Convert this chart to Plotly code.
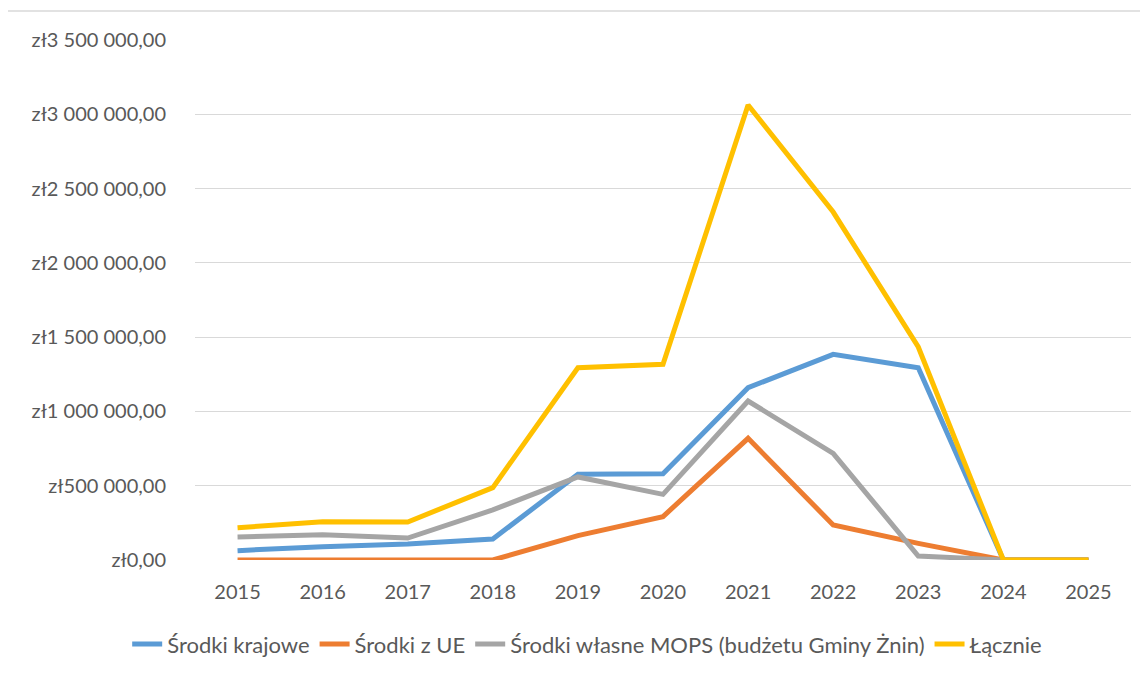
import plotly.graph_objects as go

years = ["2015", "2016", "2017", "2018", "2019", "2020", "2021", "2022", "2023", "2024", "2025"]
krajowe = [63000, 90000, 108000, 141000, 577000, 580000, 1160000, 1384000, 1294000, 0, 0]
ue = [0, 0, 0, 0, 164000, 292000, 819000, 236000, 112000, 0, 0]
wlasne = [155000, 170000, 148000, 337000, 559000, 442000, 1070000, 718000, 27000, 0, 0]
lacznie = [217000, 258000, 256000, 487000, 1294000, 1317000, 3063000, 2342000, 1434000, 0, 0]

tick_vals = [0, 500000, 1000000, 1500000, 2000000, 2500000, 3000000, 3500000]
tick_text = ["zł0,00", "zł500 000,00", "zł1 000 000,00", "zł1 500 000,00",
             "zł2 000 000,00", "zł2 500 000,00", "zł3 000 000,00", "zł3 500 000,00"]

series = [
    ("Środki krajowe", krajowe, "#5B9BD5"),
    ("Środki z UE", ue, "#ED7D31"),
    ("Środki własne MOPS (budżetu Gminy Żnin)", wlasne, "#A5A5A5"),
    ("Łącznie", lacznie, "#FFC000"),
]

fig = go.Figure()
for name, vals, color in series:
    fig.add_trace(go.Scatter(x=years, y=vals, name=name, mode="lines",
                             line=dict(color=color, width=5)))

tick_font = dict(family="Lato, 'Open Sans', sans-serif", size=20, color="#595959")
leg_font = dict(family="Lato, 'Open Sans', sans-serif", size=22, color="#595959")

# page body has an 8px margin, so the figure is sized to fit inside it
fig.update_layout(
    width=1140, height=661, autosize=False,
    margin=dict(l=187, r=17, t=32, b=109, autoexpand=False),
    paper_bgcolor="white", plot_bgcolor="white",
    font=tick_font,
    showlegend=True,
    legend=dict(orientation="h", x=0.419, xanchor="center",
                y=-0.162, yanchor="middle", font=leg_font),
)
fig.update_xaxes(type="category", range=[-0.5, 10.5], showgrid=False,
                 showline=False, zeroline=False, ticks="", tickangle=0,
                 ticklabelstandoff=18)
fig.update_yaxes(range=[0, 3500000], tickvals=tick_vals, ticktext=tick_text,
                 showgrid=True, gridcolor="#D9D9D9", gridwidth=1.3,
                 zeroline=False, showline=False, ticks="", ticklabelstandoff=28)

# outer chart border
fig.add_shape(type="rect", xref="paper", yref="paper",
              x0=-0.2009, x1=1.2, y0=-0.4, y1=1.0558,
              line=dict(color="#D9D9D9", width=1.3), fillcolor="rgba(0,0,0,0)",
              layer="below")

fig.write_html("out.html")
